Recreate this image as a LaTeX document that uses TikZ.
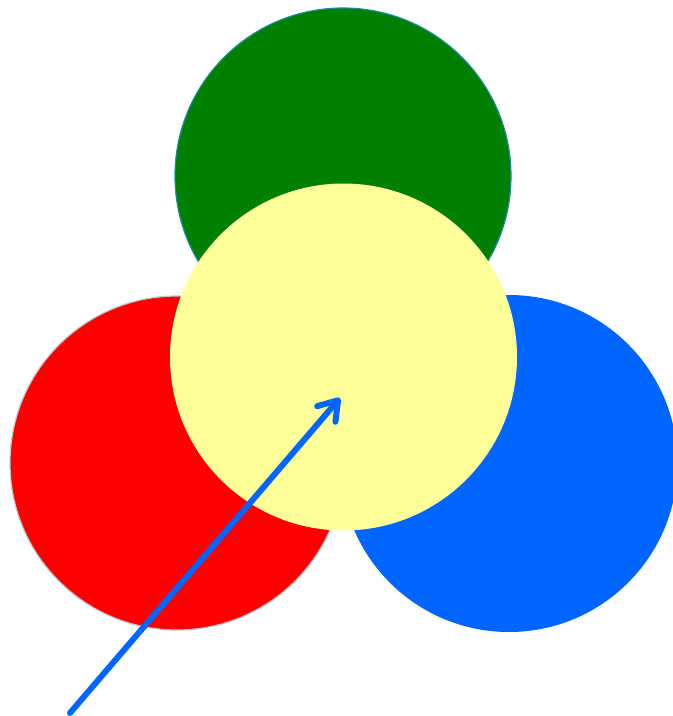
\documentclass[tikz,border=0pt]{standalone}
\usetikzlibrary{arrows.meta}
\definecolor{dkgreen}{HTML}{008000}
\definecolor{skyblue}{HTML}{0066FF}
\definecolor{paleyellow}{HTML}{FFFF99}
\definecolor{tealedge}{HTML}{1A8C9C}
\definecolor{grayedge}{HTML}{B8CCD0}
\tikzset{
  disc/.style={circle, inner sep=0pt, outer sep=0pt},
  pointer/.style={draw=skyblue, line width=6pt, line cap=round, line join=round,
    -{Straight Barb[length=18pt, width=24pt, round]}}
}
\begin{document}
\begin{tikzpicture}[x=1pt,y=-1pt]
\useasboundingbox (0,0) rectangle (673,716);
\node[disc, fill=dkgreen, draw=tealedge, line width=1.2pt, minimum size=336pt] (green) at (343,176) {};
\node[disc, fill=skyblue, minimum size=337pt] (blue) at (509,463.5) {};
\node[disc, fill=red, draw=grayedge, line width=1.2pt, minimum size=334pt] (red) at (177,463) {};
\node[disc, fill=paleyellow, minimum size=347pt] (yellow) at (343.5,357) {};
\coordinate (tail) at (70,713);
\coordinate (tip) at (340,398);
\draw[pointer] (tail) -- (tip);
\end{tikzpicture}
\end{document}
